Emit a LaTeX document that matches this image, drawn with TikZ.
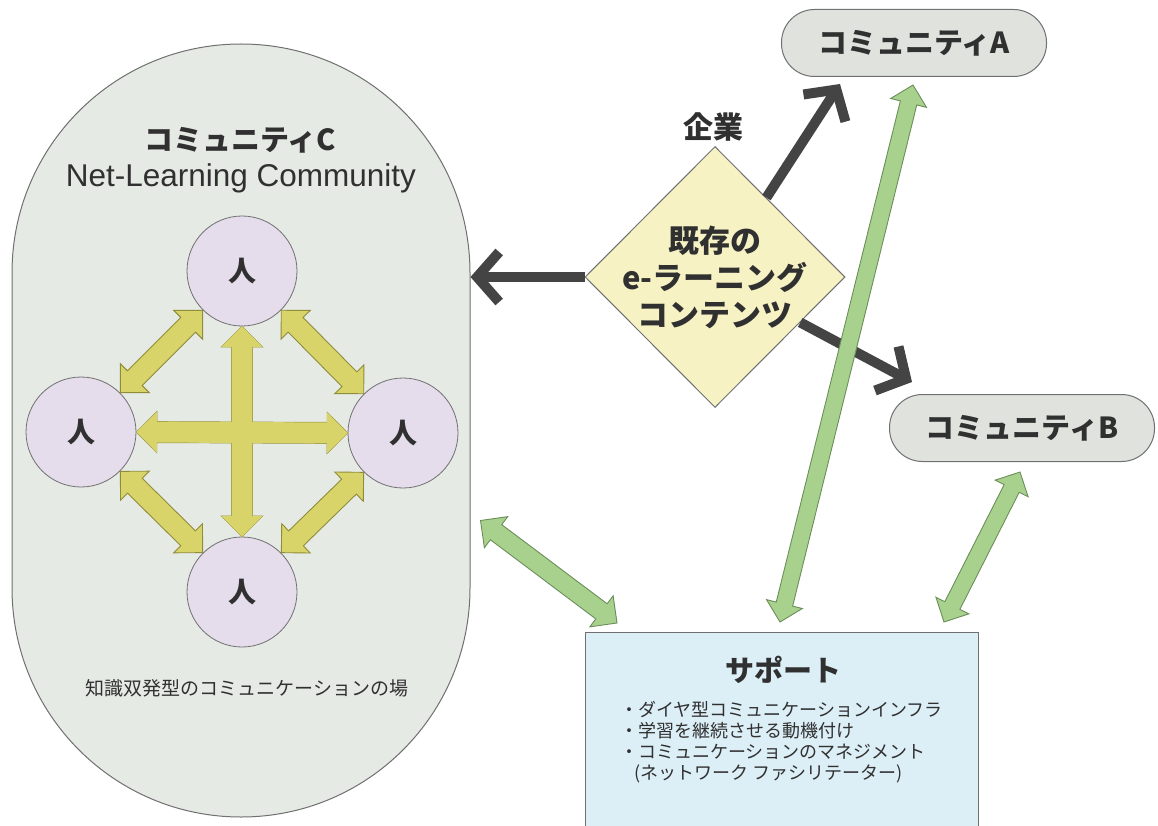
\documentclass[tikz,border=0pt]{standalone}
\usepackage{fontspec}
\setmainfont{Noto Sans CJK JP}
\newfontfamily\lat{Liberation Sans}
\usetikzlibrary{shapes.geometric,shapes.arrows,arrows.meta,calc}
\definecolor{txt}{HTML}{303030}
\definecolor{cfill}{HTML}{E6EAE4}
\definecolor{cline}{HTML}{707070}
\definecolor{pfill}{HTML}{E5DDEB}
\definecolor{yfill}{HTML}{D9D46A}
\definecolor{yline}{HTML}{8F8C3A}
\definecolor{dfill}{HTML}{F6F2C4}
\definecolor{afill}{HTML}{E0E2DD}
\definecolor{sfill}{HTML}{DCEEF6}
\definecolor{gfill}{HTML}{A9D18E}
\definecolor{gline}{HTML}{6B8E5A}
\definecolor{dark}{HTML}{444444}
\newcommand\blockarrow[3]{\path let \p1=($(#3)-(#2)$), \n1={atan2(\y1,\x1)}, \n2={veclen(\x1,\y1)} in node[#1, rotate=\n1, minimum height=\n2] at ($(#2)!0.5!(#3)$) {};}
\tikzset{
  person/.style={circle, draw=cline, fill=pfill, line width=0.8pt, minimum size=110pt, inner sep=0pt, text=txt, font=\bfseries\fontsize{28pt}{30pt}\selectfont},
  yarr/.style={double arrow, draw=yline, fill=yfill, line width=0.9pt, inner sep=0pt, inner ysep=10pt, text height=0pt, text depth=0pt, double arrow head extend=10pt, double arrow tip angle=90},
  yarrf/.style={yarr, draw=none},
  garr/.style={double arrow, draw=gline, fill=gfill, line width=0.9pt, inner sep=0pt, inner ysep=#1, text height=0pt, text depth=0pt, double arrow head extend=10pt, double arrow tip angle=90},
  pill/.style={draw=cline, fill=afill, line width=1pt, rounded corners=33pt, minimum width=265pt, minimum height=67pt, text=txt, font=\bfseries\fontsize{29pt}{30pt}\selectfont},
  darr/.style={draw=dark, line width=10pt, -{Straight Barb[length=22pt,width=50pt]}},
}
\begin{document}
\begin{tikzpicture}[x=1pt,y=-1pt]
\clip (0,0) rectangle (1158,826);
\fill[white] (0,0) rectangle (1158,826);
% community C
\node[draw=cline, fill=cfill, line width=1pt, rounded corners=228.9pt, minimum width=458pt, minimum height=773pt, inner sep=0pt] (C) at (241,430.5) {};
\node[text=txt, font=\bfseries\fontsize{29pt}{30pt}\selectfont] (ct) at (240,140) {コミュニティC};
\node[text=txt, font=\lat\fontsize{31.5pt}{33pt}\selectfont] (cs) at (241,178) {Net-Learning Community};
\node[text=txt, font=\fontsize{19pt}{22pt}\selectfont] (cb) at (247,688) {知識双発型のコミュニケーションの場};
% people
\node[person] (pt) at (242,271) {人};
\node[person] (pl) at (81,432) {人};
\node[person] (pr) at (403,433) {人};
\node[person] (pb) at (242,592) {人};
\blockarrow{yarr}{pt.south west}{pl.north east}
\blockarrow{yarr}{pt.south east}{pr.north west}
\blockarrow{yarr}{pl.south east}{pb.north west}
\blockarrow{yarr}{pr.south west}{pb.north east}
\blockarrow{yarr}{pl.east}{pr.west}
\blockarrow{yarr}{pt.south}{pb.north}
\blockarrow{yarrf}{pl.east}{pr.west}
\blockarrow{yarrf}{pt.south}{pb.north}
% communities A, B
\node[pill] (A) at (914,43) {コミュニティA};
\node[pill] (B) at (1022,428) {コミュニティB};
% support
\node[draw=cline, fill=sfill, line width=1pt, minimum width=393pt, minimum height=260pt, anchor=north west, inner sep=0pt] (S) at (585,632) {};
\node[text=txt, font=\bfseries\fontsize{29pt}{30pt}\selectfont] (st) at (783,670) {サポート};
\node[text=txt, font=\fontsize{18pt}{21pt}\selectfont, align=left, anchor=north west, inner sep=0pt] (sl) at (620,701) {・ダイヤ型コミュニケーションインフラ\\・学習を継続させる動機付け\\・コミュニケーションのマネジメント\\\hspace{0.8em}(ネットワーク ファシリテーター)};
% diamond
\node[diamond, draw=cline, fill=dfill, line width=1pt, minimum width=260pt, minimum height=261pt, inner sep=0pt] (D) at (715,277) {};
\node[text=txt, align=center, font=\bfseries\fontsize{31pt}{37pt}\selectfont] (dt) at (D) {既存の\\e-ラーニング\\コンテンツ};
\node[text=txt, font=\bfseries\fontsize{30pt}{32pt}\selectfont] (corp) at (713,127) {企業};
% dark arrows
\coordinate (atip) at ($(A.south)+(-74,7)$);
\coordinate (btip) at ($(B.north west)+(23,-12)$);
\draw[darr] (D.west) -- (D.west -| C.east);
\draw[darr] (D) -- (atip);
\draw[darr] (D) -- (btip);
% green arrows
\coordinate (g1a) at ($(C.east)+(10,90)$);
\coordinate (g1b) at ($(S.north west)+(32,-9)$);
\coordinate (g2a) at ($(S.north)+(-2,-10)$);
\coordinate (g2b) at ($(A.south)+(-1,8)$);
\coordinate (g3a) at ($(S.north east)+(-35,-10)$);
\coordinate (g3b) at ($(B.south)+(-2,10)$);
\blockarrow{garr=9pt}{g1a}{g1b}
\blockarrow{garr=8pt}{g2a}{g2b}
\blockarrow{garr=8pt}{g3a}{g3b}
\end{tikzpicture}
\end{document}
